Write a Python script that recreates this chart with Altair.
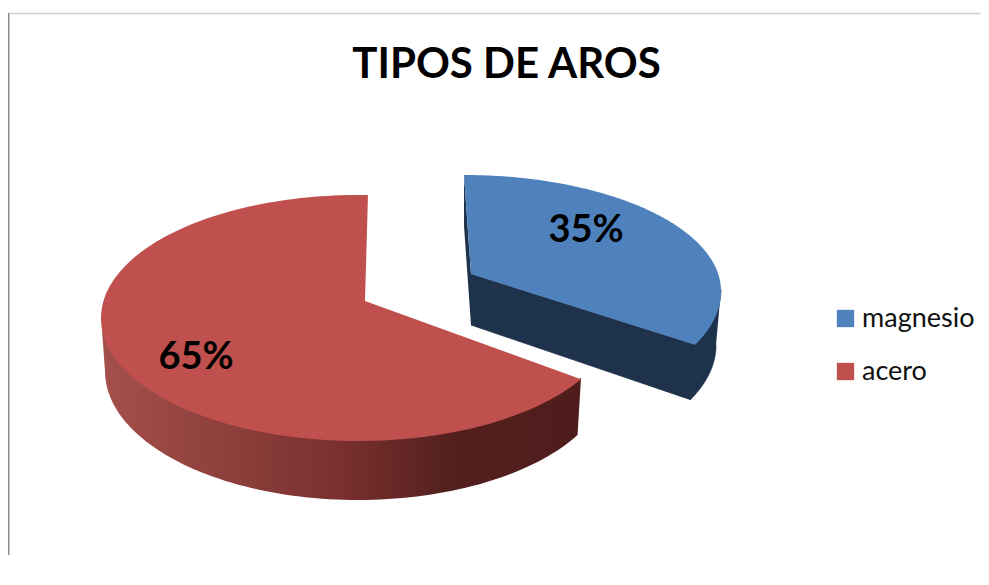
import math
import altair as alt
import pandas as pd

TITLE = "TIPOS DE AROS"
categories = ["magnesio", "acero"]
shares = [35, 65]
top_colors = ["#4f81bd", "#c0504d"]
wall_colors = ["#1f324b", "#4e1d1b"]

# Projection of each exploded slice: elliptical top and base outlines
GEOM = {
    "magnesio": dict(apex=(471, 274), top=(464, 291, 257, 116, 123), base=(462, 345, 254, 125),
                     phi0=0, stretch=0.92, depth=51, wall_to=90, label=(586, 231)),
    "acero": dict(apex=(365, 301), top=(358, 318, 257, 123, 123), base=(358, 371, 253, 129),
                  phi0=119.8, stretch=1.036, depth=58, wall_to=270, label=(196, 358)),
}


def on_top(g, phi):
    cx, cy, a, up, dn = g["top"]
    c = math.cos(math.radians(phi))
    return cx + a * math.sin(math.radians(phi)), cy - c * (up if c > 0 else dn)


def on_base(g, phi):
    cx, cy, a, b = g["base"]
    return cx + a * math.sin(math.radians(phi)), cy - b * math.cos(math.radians(phi))


def under_top(g, phi):
    # upper edge of a wall, tucked just beneath the top face so no seam shows
    x, y = on_top(g, phi)
    return x, y - 1.5


def frame(points):
    return pd.DataFrame([{"i": i, "x": p[0], "y": p[1]} for i, p in enumerate(points)])


def samples(start, end, n=90):
    return [start + (end - start) * k / n for k in range(n + 1)]


x_scale = alt.Scale(domain=[8, 981], range=[0, 973])
y_scale = alt.Scale(domain=[8, 568], range=[0, 560])


def polygon(points, fill, stroke=None):
    props = dict(fill=fill, clip=False)
    if stroke:
        props.update(stroke=stroke, strokeWidth=0.8)
    else:
        props.update(strokeWidth=0)
    return alt.Chart(frame(points)).mark_line(**props).encode(
        x=alt.X("x:Q", scale=x_scale, axis=None),
        y=alt.Y("y:Q", scale=y_scale, axis=None),
        order=alt.Order("i:Q"),
    )


red_gradient = alt.Gradient(
    gradient="linear", x1=0, y1=0, x2=1, y2=0,
    stops=[
        alt.GradientStop(offset=0.0, color="#a54f4b"),
        alt.GradientStop(offset=0.3, color="#8a3d39"),
        alt.GradientStop(offset=0.5, color="#79302e"),
        alt.GradientStop(offset=0.72, color="#54201e"),
        alt.GradientStop(offset=1.0, color="#4e1d1b"),
    ],
)

layers = []
rows = []
for name, share, top_col, wall_col in zip(categories, shares, top_colors, wall_colors):
    g = GEOM[name]
    span = 360 * share / 100 * g["stretch"]
    p0, p1 = g["phi0"], g["phi0"] + span
    ax, ay = g["apex"]
    d = g["depth"]

    if name == "magnesio":
        # thin radial wall on the far side
        s = on_top(g, p0)
        layers.append(polygon([s, (ax, ay), (ax, ay + d), (s[0], s[1] + d)], wall_col))
        # inner radial wall
        e, eb = on_top(g, p1), on_base(g, p1)
        layers.append(polygon([(ax, ay), e, eb, (ax, ay + d)], wall_col, stroke=wall_col))
        arc = samples(g["wall_to"], p1)
        layers.append(polygon([under_top(g, t) for t in arc] + [on_base(g, t) for t in reversed(arc)],
                              wall_col, stroke=wall_col))
    else:
        arc = samples(p0, g["wall_to"])
        layers.append(polygon([under_top(g, t) for t in arc] + [on_base(g, t) for t in reversed(arc)], red_gradient))

    pts = [(ax, ay)] + [on_top(g, t) for t in samples(p0, p1, 160)]
    df = frame(pts)
    df["serie"] = name
    layers.append(
        alt.Chart(df).mark_line(strokeWidth=0, clip=False).encode(
            x=alt.X("x:Q", scale=x_scale, axis=None),
            y=alt.Y("y:Q", scale=y_scale, axis=None),
            order=alt.Order("i:Q"),
            fill=alt.Fill(
                "serie:N",
                scale=alt.Scale(domain=categories, range=top_colors),
                legend=alt.Legend(
                    title=None, orient="none", legendX=824, legendY=297,
                    symbolType="square", symbolSize=300, symbolStrokeWidth=0,
                    labelFontSize=27, labelFont="Lato", labelColor="#111111",
                    rowPadding=25, labelOffset=3, labelLimit=200,
                ),
            ),
        )
    )
    rows.append({"x": g["label"][0], "y": g["label"][1], "t": f"{share}%"})

labels = alt.Chart(pd.DataFrame(rows)).mark_text(
    font="Lato", fontSize=38, fontWeight="bold", color="#000000", baseline="middle", align="center"
).encode(
    x=alt.X("x:Q", scale=x_scale, axis=None),
    y=alt.Y("y:Q", scale=y_scale, axis=None),
    text="t:N",
)

frame_top = alt.Chart(pd.DataFrame({"a": [0]})).mark_rule(color="#d0d0d0", strokeWidth=1.5).encode(
    x=alt.value(0), x2=alt.value(973), y=alt.value(5.5)
)
frame_left = alt.Chart(pd.DataFrame({"a": [0]})).mark_rule(color="#8f8f8f", strokeWidth=2).encode(
    x=alt.value(0.5), y=alt.value(5), y2=alt.value(547)
)

chart = (
    alt.layer(frame_top, frame_left, *layers, labels)
    .resolve_scale(x="shared", y="shared")
    .properties(
        width=973,
        height=560,
        padding=0,
        autosize=alt.AutoSizeParams(type="none"),
        title=alt.TitleParams(
            TITLE, font="Lato", fontSize=42, fontWeight="bold", color="#000000",
            anchor="middle", dx=12, dy=83,
        ),
    )
    .configure_view(stroke=None)
)

chart.save("out.html", embed_options={"renderer": "svg", "actions": False})
